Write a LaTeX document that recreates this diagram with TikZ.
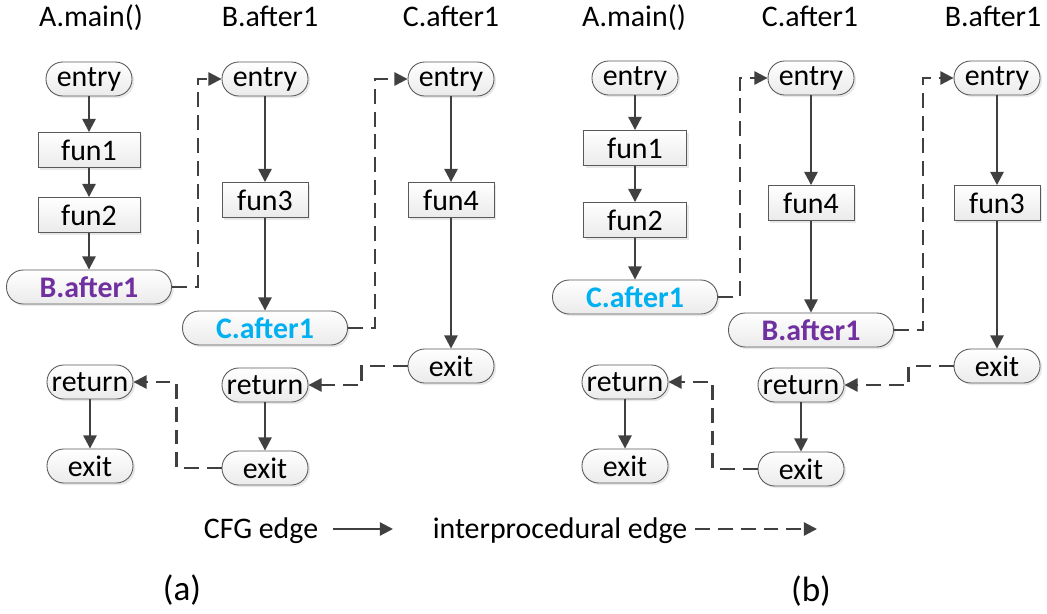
\documentclass[tikz,border=0pt]{standalone}
\usepackage{fontspec}
\setmainfont{Carlito}
\usetikzlibrary{arrows.meta,shadows,positioning}
\definecolor{edgegray}{HTML}{404040}
\definecolor{callpurple}{HTML}{7030A0}
\definecolor{callblue}{HTML}{00B0F0}

\begin{document}
\begin{tikzpicture}[font=\fontsize{17}{20}\selectfont,
  shade/.style={draw=gray!70!black,line width=0.5pt,top color=white,bottom color=gray!16,drop shadow={shadow xshift=1.2pt,shadow yshift=-1.2pt,fill=gray!35}},
  pill/.style={shade,rectangle,rounded corners=9.5pt,minimum width=1.72cm,minimum height=0.68cm,inner sep=0pt},
  stmt/.style={shade,rectangle,minimum width=1.72cm,minimum height=0.7cm,inner sep=0pt},
  callsite/.style={pill,minimum width=3.3cm,font=\fontsize{17}{20}\selectfont\bfseries},
  cfgedge/.style={draw=edgegray,line width=1.25pt,-{Triangle[length=7.5pt,width=7.5pt]}},
  ipedge/.style={cfgedge,dash pattern=on 8.5pt off 4.5pt}]
\useasboundingbox (0,0) rectangle (20.94,12.26);

% (a): A.main() calls B.after1, which calls C.after1
\node (ta) at (1.82,11.72)[anchor=base] {A.main()};
\node (tb) at (5.4,11.72)[anchor=base] {B.after1};
\node (tc) at (9.02,11.72)[anchor=base] {C.after1};

\node (ae) at (1.78,10.68)[pill] {entry};
\node (af1) at (1.78,9.26)[stmt,minimum width=2.04cm] {fun1};
\node (af2) at (1.78,7.96)[stmt,minimum width=2.04cm] {fun2};
\node (ab) at (1.78,6.52)[callsite,text=callpurple] {B.after1};
\node (ar) at (1.80,4.62)[pill] {return};
\node (ax) at (1.80,2.94)[pill] {exit};

\node (be) at (5.3,10.68)[pill] {entry};
\node (bf3) at (5.3,8.26)[stmt] {fun3};
\node (bc) at (5.3,5.70)[callsite,text=callblue] {C.after1};
\node (br) at (5.3,4.56)[pill] {return};
\node (bx) at (5.3,2.90)[pill] {exit};

\node (ce) at (9.02,10.68)[pill] {entry};
\node (cf4) at (9.02,8.26)[stmt] {fun4};
\node (cx) at (9.02,4.94)[pill] {exit};

\draw[cfgedge] (ae) -- (af1);
\draw[cfgedge] (af1) -- (af2);
\draw[cfgedge] (af2) -- (ab);
\draw[cfgedge] (ar) -- (ax);
\draw[cfgedge] (be) -- (bf3);
\draw[cfgedge] (bf3) -- (bc);
\draw[cfgedge] (br) -- (bx);
\draw[cfgedge] (ce) -- (cf4);
\draw[cfgedge] (cf4) -- (cx);
\draw[ipedge] (ab.east) -- ++(0.52,0) |- (be.west);
\draw[ipedge] (bc.east) -- ++(0.54,0) |- (ce.west);
\draw[ipedge] (cx.west) -- ++(-0.92,0) |- (br.east);
\draw[ipedge] (bx.west) -- ++(-0.9,0) |- (ar.east);

% (b): A.main() calls C.after1, which calls B.after1
\node (ta2) at (12.68,11.72)[anchor=base] {A.main()};
\node (tc2) at (16.2,11.72)[anchor=base] {C.after1};
\node (tb2) at (19.86,11.72)[anchor=base] {B.after1};

\node (ae2) at (12.7,10.7)[pill] {entry};
\node (af12) at (12.7,9.3)[stmt,minimum width=2.06cm] {fun1};
\node (af22) at (12.7,7.86)[stmt,minimum width=2.06cm] {fun2};
\node (ac2) at (12.7,6.32)[callsite,text=callblue] {C.after1};
\node (ar2) at (12.5,4.62)[pill] {return};
\node (ax2) at (12.5,2.94)[pill] {exit};

\node (ce2) at (16.22,10.7)[pill] {entry};
\node (cf42) at (16.22,8.2)[stmt] {fun4};
\node (cb2) at (16.22,5.66)[callsite,text=callpurple] {B.after1};
\node (cr2) at (16.02,4.56)[pill] {return};
\node (cx2) at (16.02,2.88)[pill] {exit};

\node (be2) at (19.94,10.7)[pill] {entry};
\node (bf32) at (19.94,8.2)[stmt] {fun3};
\node (bx2) at (19.94,4.94)[pill] {exit};

\draw[cfgedge] (ae2) -- (af12);
\draw[cfgedge] (af12) -- (af22);
\draw[cfgedge] (af22) -- (ac2);
\draw[cfgedge] (ar2) -- (ax2);
\draw[cfgedge] (ce2) -- (cf42);
\draw[cfgedge] (cf42) -- (cb2);
\draw[cfgedge] (cr2) -- (cx2);
\draw[cfgedge] (be2) -- (bf32);
\draw[cfgedge] (bf32) -- (bx2);
\draw[ipedge] (ac2.east) -- ++(0.44,0) |- (ce2.west);
\draw[ipedge] (cb2.east) -- ++(0.58,0) |- (be2.west);
\draw[ipedge] (bx2.west) -- ++(-0.9,0) |- (cr2.east);
\draw[ipedge] (cx2.west) -- ++(-0.9,0) |- (ar2.east);

% legend
\node (lcfg) at (5.22,1.5)[anchor=base] {CFG edge};
\coordinate (k1) at (6.66,1.68);
\coordinate (k2) at (7.86,1.68);
\draw[cfgedge] (k1) -- (k2);
\node (lip) at (11.2,1.5)[anchor=base] {interprocedural edge};
\coordinate (k3) at (13.9,1.68);
\coordinate (k4) at (16.34,1.68);
\draw[ipedge] (k3) -- (k4);

\node (capa) at (3.64,0.46)[font=\fontsize{20}{23}\selectfont] {(a)};
\node (capb) at (16.22,0.44)[font=\fontsize{20}{23}\selectfont] {(b)};
\end{tikzpicture}
\end{document}
